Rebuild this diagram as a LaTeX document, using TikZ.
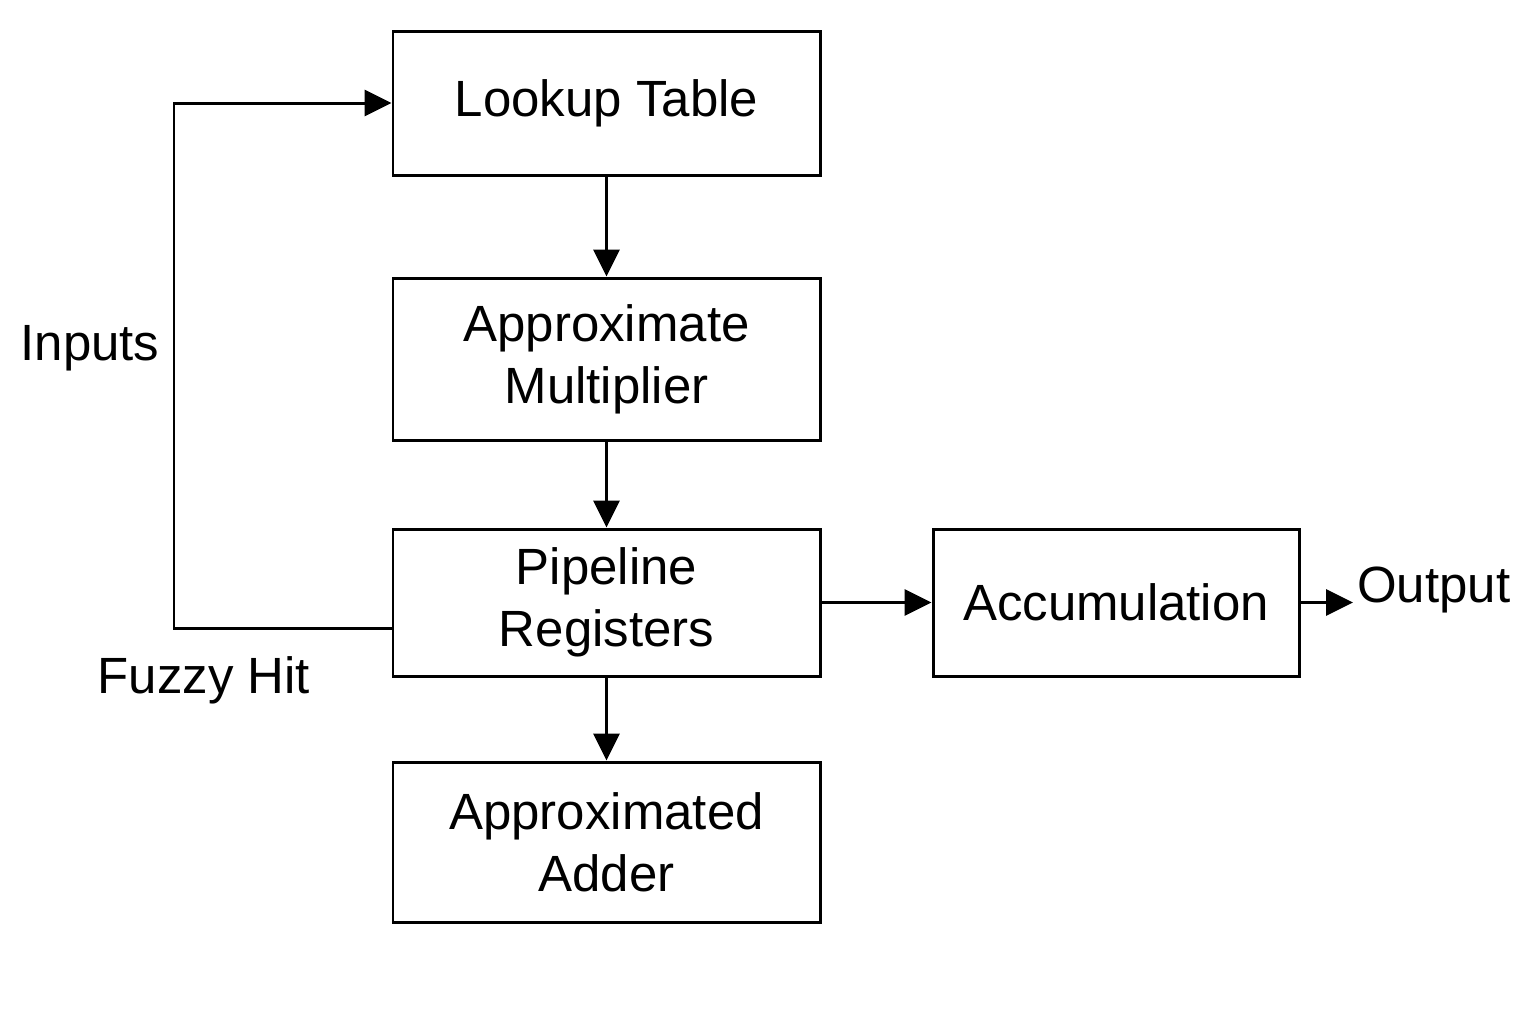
\documentclass[tikz,border=0pt]{standalone}
\usepackage{fontspec}
\setmainfont{Liberation Sans}
\usepackage{tikz}
\usetikzlibrary{positioning,arrows.meta,calc}
\tikzset{
  blockbox/.style={
    rectangle, draw=black, line width=0.85pt, fill=white, align=center,
    minimum width=4.27cm, inner sep=2pt,
    font=\fontsize{14.5}{17.6}\selectfont
  },
  arrow/.style={-{Triangle[length=0.27cm, width=0.26cm]}, line width=0.85pt},
  plainlabel/.style={font=\fontsize{14.5}{17.6}\selectfont, inner sep=1pt},
}

\begin{document}
\begin{tikzpicture}
  \useasboundingbox (0,0) rectangle (15.36,-10.24);

  % main column of blocks
  \node[blockbox, minimum height=1.44cm] (lut) at (6.065,-1.03) {Lookup Table};
  \node[blockbox, minimum height=1.62cm] (mult) at (6.065,-3.59) {Approximate\\Multiplier};
  \node[blockbox, minimum height=1.47cm] (pipe) at (6.065,-6.025) {Pipeline\\Registers};
  \node[blockbox, minimum height=1.60cm] (adder) at (6.065,-8.42) {Approximated\\Adder};
  \node[blockbox, minimum width=3.66cm, minimum height=1.47cm] (acc) at (11.16,-6.025) {Accumulation};

  \node[plainlabel] (inputs) at (0.90,-3.48) {Inputs};
  \node[plainlabel] (fuzzy) at (2.04,-6.80) {Fuzzy Hit};
  \node[plainlabel, anchor=west] (output) at (13.53,-5.90) {Output};

  \draw[arrow] (lut) -- (mult);
  \draw[arrow] (mult) -- (pipe);
  \draw[arrow] (pipe) -- (adder);
  \draw[arrow] (pipe) -- (acc);
  \draw[arrow] (acc.east) -- (acc.east -| output.west);

  % feedback loop from the registers back into the table
  \coordinate (fbcorner) at (1.74,-6.28);
  \draw[arrow] ([yshift=-0.255cm]pipe.west) -| (fbcorner) |- (lut.west);

\end{tikzpicture}
\end{document}
